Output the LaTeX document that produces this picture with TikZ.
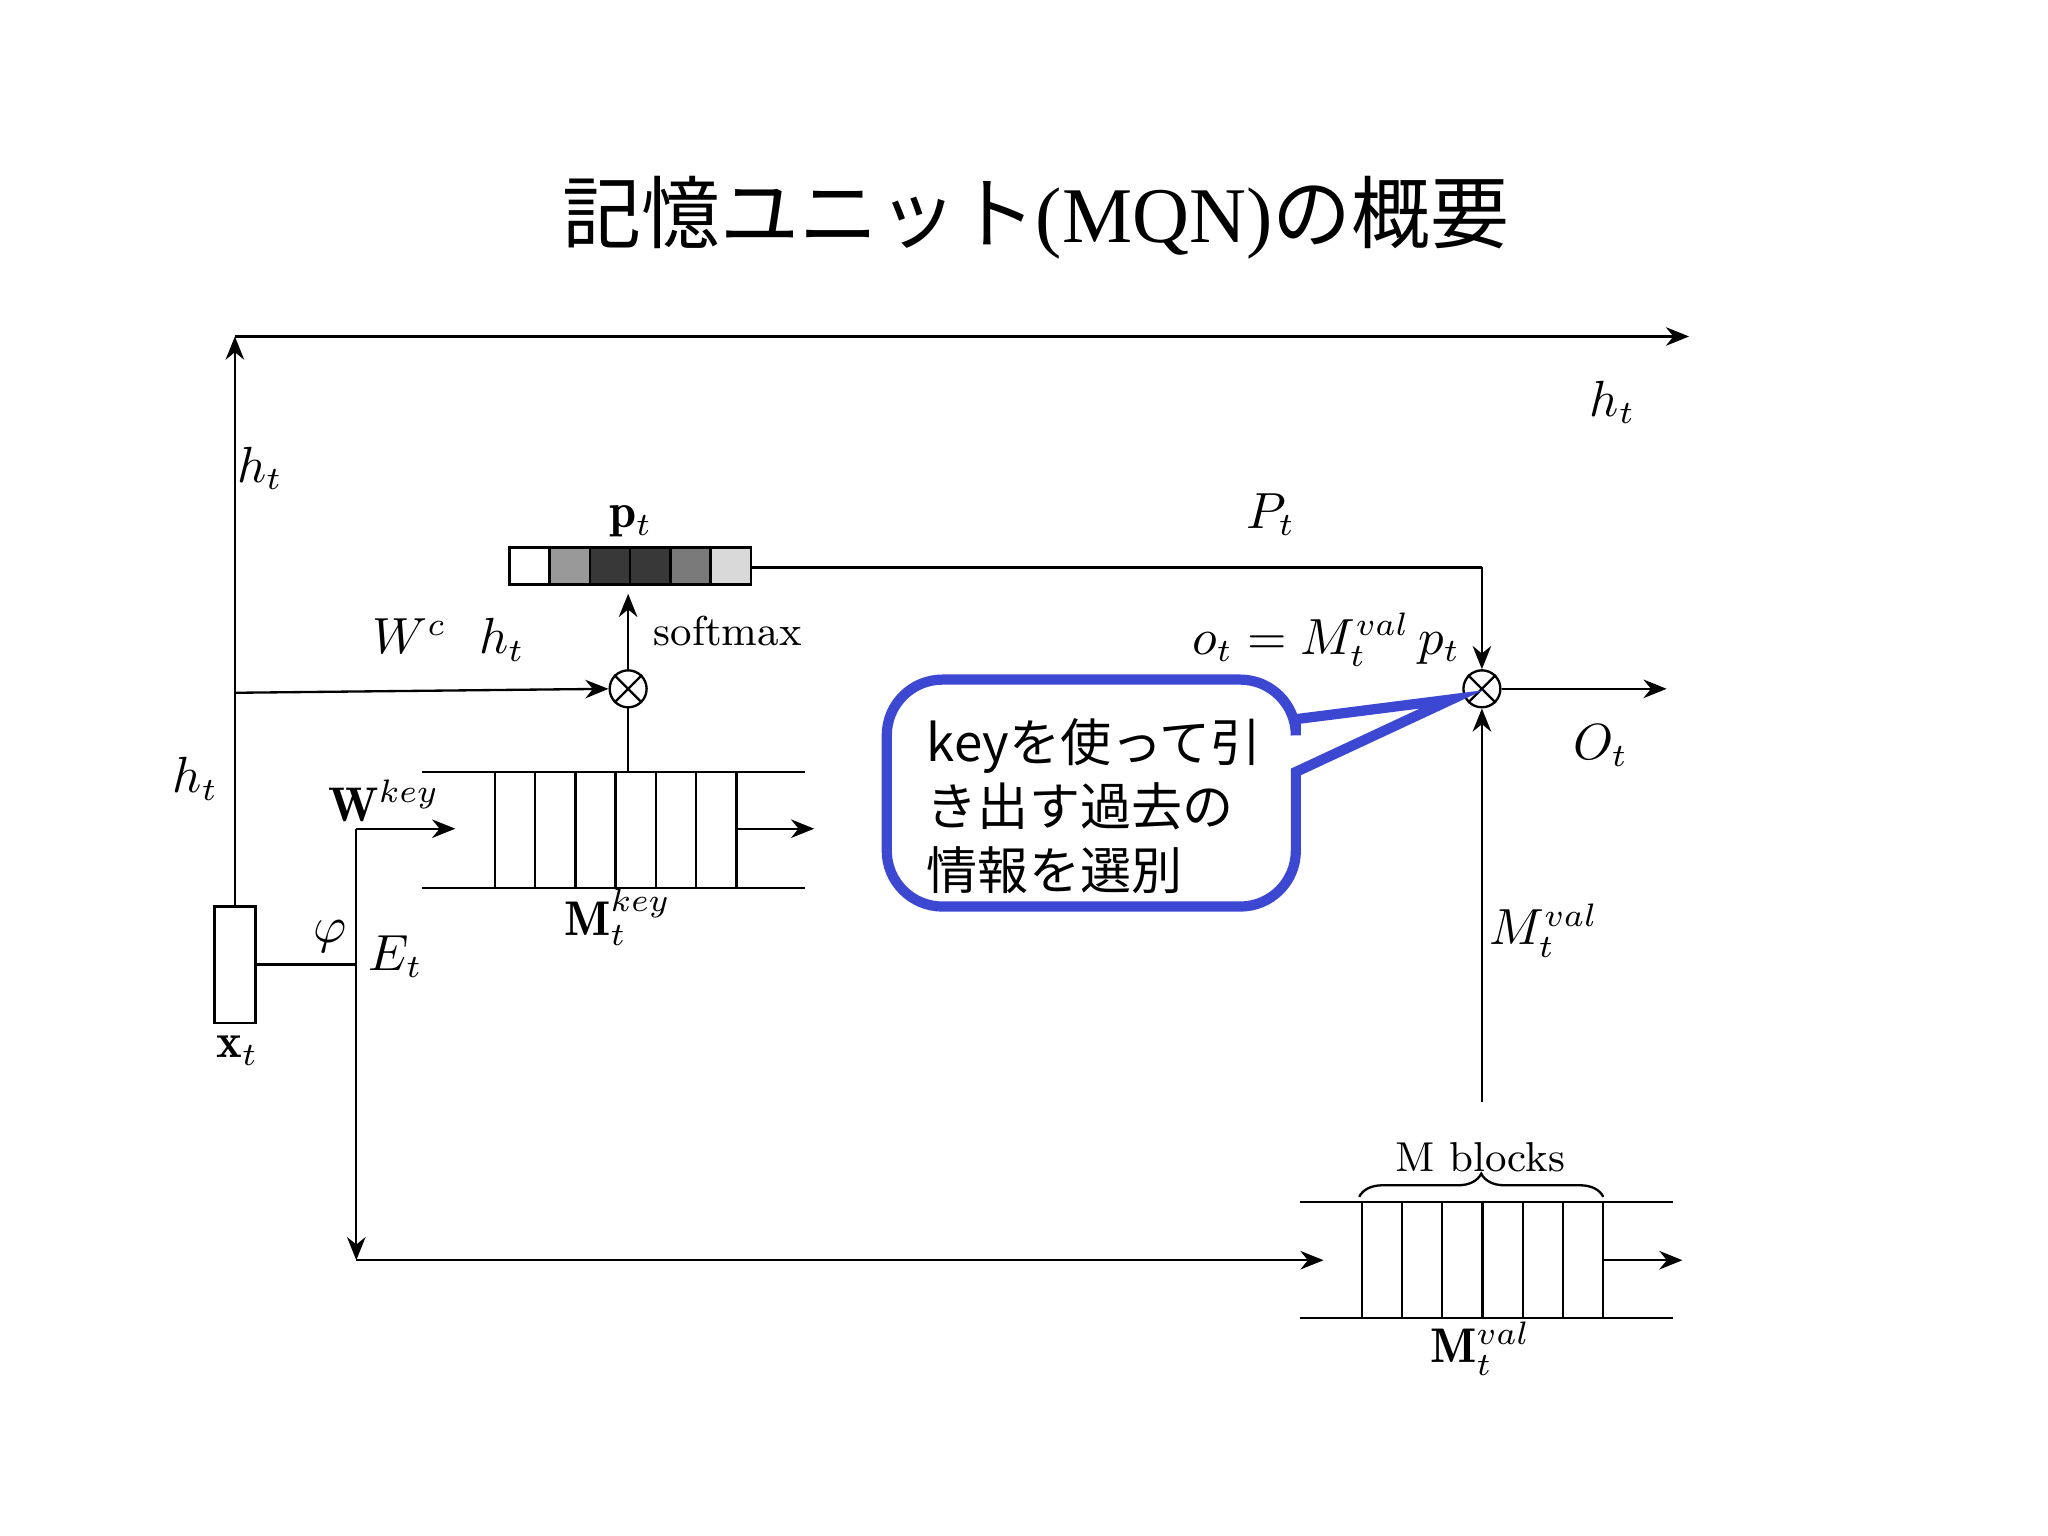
\documentclass[tikz,border=0pt]{standalone}
\usepackage{fontspec}
\usepackage{amsmath}
\newfontfamily\cjk{Noto Sans CJK JP}
\usetikzlibrary{arrows.meta,decorations.pathreplacing}
\begin{document}
\begin{tikzpicture}[x=0.01cm,y=-0.01cm,
  ln/.style={line width=0.5pt,black},
  ar/.style={ln,-{Stealth[length=5pt,width=4pt]}},
  lbl/.style={font=\fontsize{10.5}{12}\selectfont},
  cell/.style={draw,line width=0.5pt}]
\useasboundingbox (0,0) rectangle (1552,1164);
\node (title) at (785,165) {\cjk\fontsize{17}{20}\selectfont 記憶ユニット\fontspec{Liberation Serif}(MQN)\cjk の概要};
% top
\coordinate (xtop) at (178,687);
\coordinate (tl) at (178,255);
\coordinate (tr) at (1280,255);
\draw[ar] (xtop) -- (tl);
\draw[ar] (tl) -- (tr);
\node[lbl] at (1222,305) {$h_t$};
\node[lbl] at (197,355) {$h_t$};
\node[lbl] at (148,590) {$h_t$};
% x_t
\node[draw,line width=0.5pt,minimum width=0.31cm,minimum height=0.88cm,inner sep=0] (x) at (178,731) {};
\node[lbl] at (180,796) {$\mathbf{x}_t$};
\coordinate (e) at (270,731);
\draw[ln] (x.east) -- (e);
\node[lbl] at (250,710) {$\varphi$};
\node[lbl] at (300,725) {$E_t$};
\coordinate (etop) at (270,628);
\coordinate (ebot) at (270,955);
\coordinate (wk) at (345,628);
\draw[ln] (etop) -- (e);
\draw[ar] (e) -- (ebot);
\draw[ar] (etop) -- (wk);
\node[lbl] at (291,607) {$\mathbf{W}^{key}$};
\coordinate (vin) at (1003,955);
\draw[ar] (ebot) -- (vin);
% Mkey
\draw[ln] (320,585) -- (610,585);
\draw[ln] (320,673) -- (610,673);
\foreach \i in {0,...,5} \draw[cell] (375+\i*30.5,585) rectangle (375+\i*30.5+30.5,673);
\coordinate (kout) at (558,628);
\coordinate (kend) at (617,628);
\draw[ar] (kout) -- (kend);
\node[lbl] at (468,695) {$\mathbf{M}_t^{key}$};
% otimes 1
\node[draw,circle,line width=0.5pt,minimum size=0.28cm,inner sep=0] (o1) at (476,522) {};
\draw[ln] (o1.45) -- (o1.225) (o1.135) -- (o1.315);
\coordinate (ktop) at (476,585);
\draw[ln] (ktop) -- (o1.south);
\coordinate (hl) at (178,525);
\draw[ar] (hl) -- (o1.west);
\node[lbl] at (340,485) {$W^c\ \ h_t$};
\coordinate (pbot) at (476,450);
\draw[ar] (o1.north) -- (pbot);
\node[font=\fontsize{9}{11}\selectfont,anchor=west] at (483,478) {softmax};
% p_t
\foreach \i/\c in {0/white,1/black!40,2/black!78,3/black!78,4/black!52,5/black!15}
  \draw[cell,fill=\c] (386+\i*30.5,415) rectangle (386+\i*30.5+30.5,443);
\node[lbl] at (478,395) {$\mathbf{p}_t$};
\coordinate (pout) at (569,430);
\coordinate (pc) at (1123,430);
\node[draw,circle,line width=0.5pt,minimum size=0.28cm,inner sep=0] (o2) at (1123,522) {};
\draw[ln] (o2.45) -- (o2.225) (o2.135) -- (o2.315);
\draw[ln] (pout) -- (pc);
\draw[ar] (pc) -- (o2.north);
\node[lbl] at (963,390) {$P_t$};
\coordinate (oend) at (1263,522);
\draw[ar] (o2.east) -- (oend);
\node[lbl] at (1213,565) {$O_t$};
\node[lbl] at (1005,485) {$o_t = M_t^{val}\,p_t$};
\coordinate (mv) at (1123,835);
\draw[ar] (mv) -- (o2.south);
\node[lbl] at (1170,705) {$M_t^{val}$};
% Mval
\draw[ln] (985,911) -- (1268,911);
\draw[ln] (985,999) -- (1268,999);
\foreach \i in {0,...,5} \draw[cell] (1032+\i*30.5,911) rectangle (1032+\i*30.5+30.5,999);
\coordinate (vout) at (1215,955);
\coordinate (vend) at (1275,955);
\draw[ar] (vout) -- (vend);
\draw[ln,decorate,decoration={brace,amplitude=5pt}] (1030,907) -- (1215,907);
\node[font=\fontsize{9}{11}\selectfont] at (1122,877) {M blocks};
\node[lbl] at (1122,1022) {$\mathbf{M}_t^{val}$};
% callout
\draw[line width=2.2pt,draw={rgb,255:red,60;green,72;blue,210},fill=white,line join=miter]
  [rounded corners=12pt] (982,585) -- (982,687) -- (672,687) -- (672,515) -- (982,515) [sharp corners] -- (982,545) -- (1100,530) -- cycle;
\node[anchor=north west,align=left,font=\cjk\fontsize{11}{13.8}\selectfont] (c) at (690,532) {keyを使って引\\き出す過去の\\情報を選別};
\end{tikzpicture}
\end{document}
